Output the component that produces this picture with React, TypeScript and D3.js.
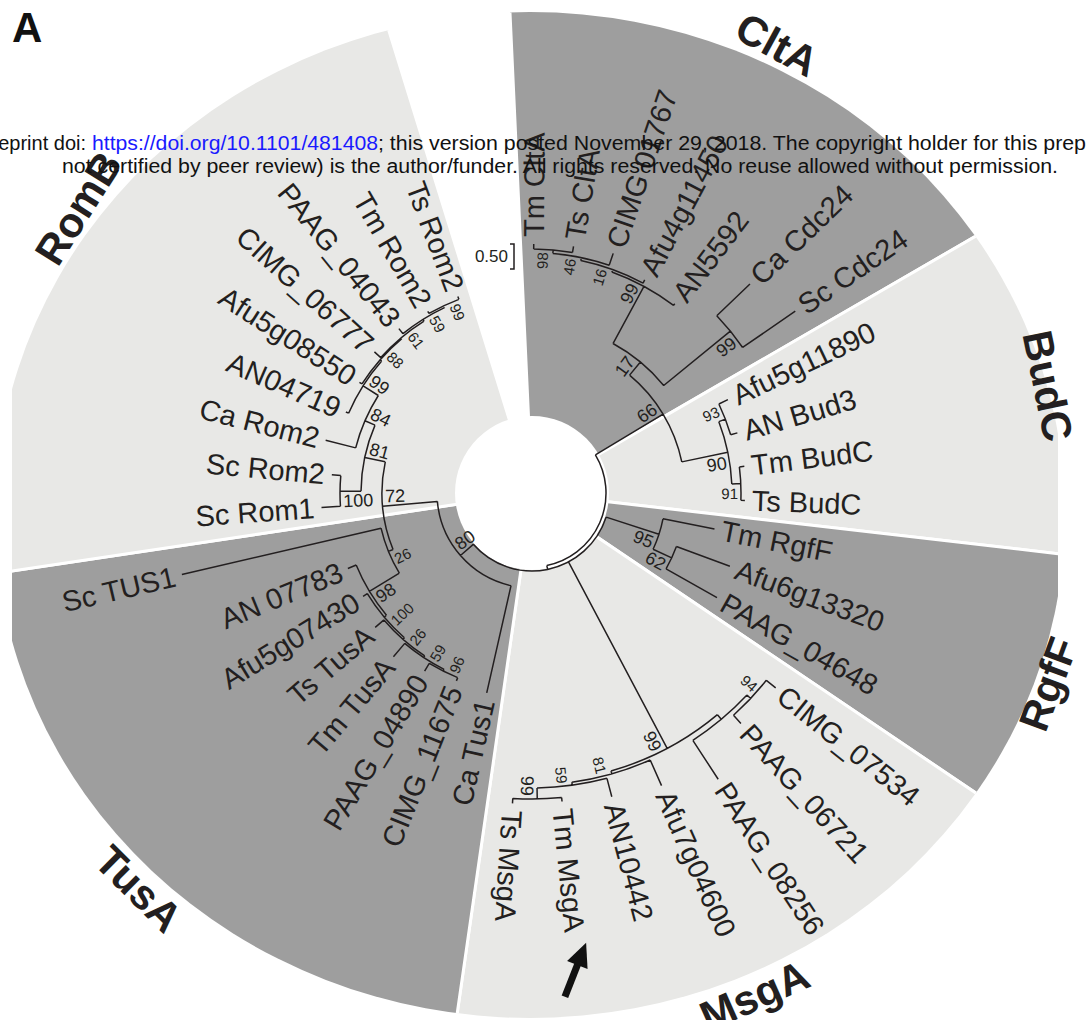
import React from "react";
import * as d3 from "d3";

const W = 1086;
const H = 1020;
const CX = 532;
const CY = 493;

// Subtrees in Newick form: branch lengths in substitutions per site,
// internal node labels are bootstrap support (%).
const cltaBudcClade =
  "((((((Tm CltA:0.10,Ts CltA:0.12)98:0.07,CIMG 01767:0.25)46:0.06,Afu4g11450:0.07)16:0.05,AN5592:0.04)99:1.30,(Ca Cdc24:0.92,Sc Cdc24:1.28)99:1.72)17:0.34,((Afu5g11890:0.20,AN Bud3:0.14)93:0.14,(Tm BudC:0.10,Ts BudC:0.08)91:0.18)90:0.94)66:1.58";
const rgffClade =
  "(Tm RgfF:1.05,(Afu6g13320:1.14,PAAG_04648:1.17)62:0.41)95:1.11";
const msgaClade =
  "(((CIMG_07534:0.24,PAAG_06721:0.22)94:0.10,PAAG_08256:0.93):0.12,(Afu7g04600:0.56,(AN10442:0.38,(Tm MsgA:0.08,Ts MsgA:0.10)99:0.22)59:0.06)81:0.06)99:4.22";
const tusaRombClade =
  "(Ca Tus1:2.20,(((((((CIMG_11675:0.07,PAAG_04890:0.18)96:0.04,Tm TusA:0.35)59:0.04,Ts TusA:0.23)26:0.04,Afu5g07430:0.10)100:0.06,AN 07783:0.18)98:0.70,Sc TUS1:4.09)26:0.10,((Sc Rom1:0.38,Sc Rom2:0.18)100:0.42,(Ca Rom2:0.62,(AN04719:0.06,(Afu5g08550:0.06,(CIMG_06777:0.17,(PAAG_04043:0.13,(Tm Rom2:0.05,Ts Rom2:0.06)99:0.04)59:0.04)61:0.02)88:0.04)99:0.36)84:0.22)81:0.42)72:1.10)80:0.34";
const treeNewick = `(${cltaBudcClade},(${[rgffClade, msgaClade, tusaRombClade].join(",")}):0.08);`;

// Protein families shaded around the tree, each named with its first leaf
const familyNames = ["CltA", "BudC", "RgfF", "MsgA", "TusA", "RomB"];
const familyFirstLeaf = ["Tm CltA", "Afu5g11890", "Tm RgfF", "CIMG_07534", "Ca Tus1", "Sc Rom1"];

const scaleBarValue = 0.5;
const scaleBarLabel = "0.50";
const markedLeaf = "Tm MsgA";

const headerPrefix = "bioRxiv preprint doi:";
const headerLink = "https://doi.org/10.1101/481408";
const headerRest = "; this version posted November 29, 2018. The copyright holder for this prep";
const headerTail = "rint (which was";
const headerLine2 =
  "not certified by peer review) is the author/funder. All rights reserved. No reuse allowed without permission.";

// Layout
const LEAF_ANGLE_START = 0.4;
const LEAF_ANGLE_STEP = 9.16;
const ROOT_R = 74;
const PX_PER_UNIT = 50;
const LABEL_FLIP_FROM = 188;
const FONT = '"Liberation Sans", Arial, Helvetica, sans-serif';
const INK = "#231f20";
const DARK = "#9e9e9e";
const LIGHT = "#e8e8e6";
const PANEL_LEFT = 12;
const PANEL_RIGHT = 1058;
// outline of the shaded band
const OUT_CX = 530;
const OUT_CY = 515;
const OUT_RX = 535;
const OUT_RY = 503;

type PNode = { name?: string; support?: string; length: number; children?: PNode[] };

function parseNewick(src: string): PNode {
  let i = 0;
  const readNode = (): PNode => {
    const node: PNode = { length: 0 };
    if (src[i] === "(") {
      i++;
      node.children = [readNode()];
      while (src[i] === ",") {
        i++;
        node.children.push(readNode());
      }
      i++;
    }
    let label = "";
    while (i < src.length && !":,);".includes(src[i])) label += src[i++];
    label = label.trim();
    if (node.children) {
      if (label) node.support = label;
    } else node.name = label;
    if (src[i] === ":") {
      i++;
      let num = "";
      while (i < src.length && !",);".includes(src[i])) num += src[i++];
      node.length = parseFloat(num);
    }
    return node;
  };
  return readNode();
}

const rad = (d: number) => (d * Math.PI) / 180;
const polar = (angle: number, r: number): [number, number] => [
  CX + r * Math.sin(rad(angle)),
  CY - r * Math.cos(rad(angle)),
];

function outlineRadius(angle: number) {
  const s = Math.sin(rad(angle));
  const c = Math.cos(rad(angle));
  const u = CX - OUT_CX;
  const v = CY - OUT_CY;
  const A = (s * s) / (OUT_RX * OUT_RX) + (c * c) / (OUT_RY * OUT_RY);
  const B = 2 * ((u * s) / (OUT_RX * OUT_RX) - (v * c) / (OUT_RY * OUT_RY));
  const C = (u * u) / (OUT_RX * OUT_RX) + (v * v) / (OUT_RY * OUT_RY) - 1;
  return (-B + Math.sqrt(B * B - 4 * A * C)) / (2 * A);
}

function radialPlacement(angle: number, r: number) {
  const a = ((angle % 360) + 360) % 360;
  const [x, y] = polar(angle, r);
  const flipped = a >= LABEL_FLIP_FROM;
  const rot = flipped ? angle + 90 : angle - 90;
  return { x, y, rot, flipped };
}

export default function App() {
  const root: any = d3.hierarchy(parseNewick(treeNewick));
  // leaf index -> angle (degrees clockwise from 12 o'clock)
  const angleOf = d3
    .scaleLinear()
    .domain([0, 1])
    .range([LEAF_ANGLE_START, LEAF_ANGLE_START + LEAF_ANGLE_STEP]);
  // distance from root -> radius
  const radiusOf = d3.scaleLinear().domain([0, 1]).range([ROOT_R, ROOT_R + PX_PER_UNIT]);

  root.eachBefore((d: any) => {
    d.dist = d.parent ? d.parent.dist + d.data.length : 0;
    d.r = radiusOf(d.dist);
  });
  const leaves: any[] = root.leaves();
  leaves.forEach((d, i) => (d.a = angleOf(i)));
  root.eachAfter((d: any) => {
    if (d.children) d.a = (d.children[0].a + d.children[d.children.length - 1].a) / 2;
  });

  // branches: radial segments + arcs at each internal node
  const p = d3.path();
  root.each((d: any) => {
    if (d.parent) {
      const [x0, y0] = polar(d.a, d.parent.r);
      const [x1, y1] = polar(d.a, d.r);
      p.moveTo(x0, y0);
      p.lineTo(x1, y1);
    }
    if (d.children) {
      const a0 = d.children[0].a;
      const a1 = d.children[d.children.length - 1].a;
      const [x, y] = polar(a0, d.r);
      p.moveTo(x, y);
      p.arc(CX, CY, d.r, rad(a0 - 90), rad(a1 - 90), false);
    }
  });

  // family sectors, split half-way between neighbouring leaves
  const leafIndex = new Map(leaves.map((d, i) => [d.data.name, i]));
  const firstIdx = familyFirstLeaf.map((n) => leafIndex.get(n) as number);
  const lastFamily = familyNames.length - 1;
  const sectors = familyNames.map((name, k) => {
    const f = firstIdx[k];
    const l = k < lastFamily ? firstIdx[k + 1] - 1 : leaves.length - 1;
    const start = angleOf(f - (k === 0 ? 0.33 : 0.5));
    const end = angleOf(l + (k === lastFamily ? 0.38 : 0.5));
    return { name, start, end, fill: k % 2 === 0 ? DARK : LIGHT };
  });
  const sectorArc = d3.arc<any>().innerRadius(0).outerRadius(900);

  const internal: any[] = [];
  root.each((d: any) => {
    if (d.children && d.parent && d.data.support) internal.push(d);
  });

  // arrow pointing at the leaf of interest
  const marked = leaves.find((d) => d.data.name === markedLeaf);
  const [hx, hy] = polar(marked.a - 1.3, 453);
  const arrowDir = marked.a + 27;
  const ux = Math.sin(rad(arrowDir));
  const uy = -Math.cos(rad(arrowDir));
  const headLen = 24;
  const headHalf = 11;
  const bx = hx + ux * headLen;
  const by = hy + uy * headLen;
  const arrowHead = `${hx},${hy} ${bx - uy * headHalf},${by + ux * headHalf} ${bx + uy * headHalf},${by - ux * headHalf}`;

  const barLen = radiusOf(scaleBarValue) - radiusOf(0);

  return (
    <svg
      width={W}
      height={H}
      style={{ position: "absolute", left: 0, top: 0, background: "#fff", fontFamily: FONT }}
    >
      <defs>
        <clipPath id="panelClip">
          <rect x={PANEL_LEFT} y={0} width={PANEL_RIGHT - PANEL_LEFT} height={H} />
        </clipPath>
        <clipPath id="bandClip">
          <ellipse cx={OUT_CX} cy={OUT_CY} rx={OUT_RX} ry={OUT_RY} />
        </clipPath>
      </defs>

      <g clipPath="url(#panelClip)">
        <g clipPath="url(#bandClip)">
          {sectors.map((s) => (
            <path
              key={s.name}
              transform={`translate(${CX},${CY})`}
              d={sectorArc({ startAngle: rad(s.start), endAngle: rad(s.end) }) as string}
              fill={s.fill}
              stroke="#fff"
              strokeWidth={3}
            />
          ))}
        </g>
      </g>

      <circle cx={CX} cy={CY} r={77} fill="#fff" />

      <path d={p.toString()} fill="none" stroke={INK} strokeWidth={1.5} />

      {internal.map((d, k) => {
        const parent = d.parent;
        const ccw = parent.children.length === 2 && parent.children[0] === d;
        const bl = d.r - parent.r;
        const size = bl >= 10 ? 18 : 15;
        const rho = d.r - 3;
        const off = (10 / rho) * (180 / Math.PI);
        const ang = d.a + (ccw ? -off : off);
        const pl = radialPlacement(ang, rho);
        return (
          <text
            key={"s" + k}
            transform={`translate(${pl.x},${pl.y}) rotate(${pl.rot})`}
            dy="0.35em"
            textAnchor={pl.flipped ? "start" : "end"}
            fontSize={size}
            fill={INK}
          >
            {d.data.support}
          </text>
        );
      })}

      {leaves.map((d) => {
        const pl = radialPlacement(d.a, d.r + 7);
        return (
          <text
            key={d.data.name}
            transform={`translate(${pl.x},${pl.y}) rotate(${pl.rot})`}
            dy="0.35em"
            textAnchor={pl.flipped ? "end" : "start"}
            fontSize={29}
            fill={INK}
          >
            {d.data.name}
          </text>
        );
      })}

      {sectors.map((s) => {
        const mid = (s.start + s.end) / 2;
        const sn = Math.sin(rad(mid));
        let rr = outlineRadius(mid) + 22;
        // keep the family name inside the panel
        if (sn > 0) rr = Math.min(rr, (PANEL_RIGHT - 10 - CX) / sn);
        if (sn < 0) rr = Math.min(rr, (CX - PANEL_LEFT - 45) / -sn);
        const [x, y] = polar(mid, rr);
        const m = ((mid % 360) + 360) % 360;
        const rot = m > 90 && m < 270 ? mid - 180 : mid;
        return (
          <text
            key={"f" + s.name}
            transform={`translate(${x},${y}) rotate(${rot})`}
            dy="0.35em"
            textAnchor="middle"
            fontSize={42}
            fontWeight="bold"
            fill={INK}
          >
            {s.name}
          </text>
        );
      })}

      {/* scale bar */}
      <path
        d={`M510,244 H514 V${244 + barLen} H510`}
        stroke={INK}
        strokeWidth={1.5}
        fill="none"
      />
      <text x={508} y={256} dy="0.35em" textAnchor="end" fontSize={17} fill={INK}>
        {scaleBarLabel}
      </text>

      <line
        x1={bx - ux * 2}
        y1={by - uy * 2}
        x2={hx + ux * 58}
        y2={hy + uy * 58}
        stroke="#111"
        strokeWidth={7}
      />
      <polygon points={arrowHead} fill="#111" />

      <text x={12} y={42} fontSize={42} fontWeight="bold" fill="#111">
        A
      </text>

      {/* preprint header */}
      <g fontSize={20} fill="#111">
        <text x={86} y={150} textAnchor="end">
          {headerPrefix}
        </text>
        <text x={92} y={150} textLength={286} lengthAdjust="spacingAndGlyphs" fill="#1a1aff">
          {headerLink}
        </text>
        <text x={378} y={150} textLength={708} lengthAdjust="spacingAndGlyphs">
          {headerRest}
        </text>
        <text x={1086} y={150}>
          {headerTail}
        </text>
        <text x={62} y={173} textLength={996} lengthAdjust="spacingAndGlyphs">
          {headerLine2}
        </text>
      </g>
    </svg>
  );
}
